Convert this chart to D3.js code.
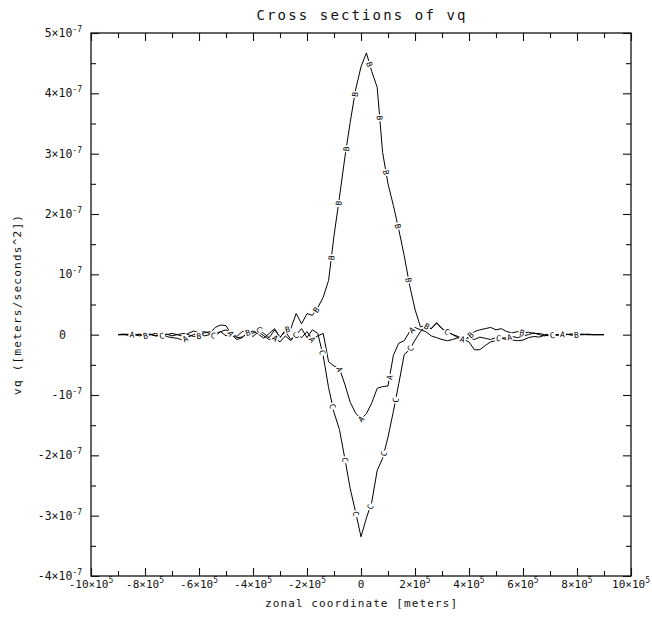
<!DOCTYPE html>
<html><head><meta charset="utf-8">
<script src="https://cdn.jsdelivr.net/npm/d3@7"></script>
<style>body{margin:0;background:#fff}svg{display:block}</style>
</head><body>
<svg id="c" width="652" height="623"></svg>
<script>
// x positions in units of 1e5 m
const xGrid = [
 -9,-8.8,-8.6,-8.4,-8.2,-8,-7.8,-7.6,-7.4,-7.2,
 -7,-6.8,-6.6,-6.4,-6.2,-6,-5.8,-5.6,-5.4,-5.2,
 -5,-4.8,-4.6,-4.4,-4.2,-4,-3.8,-3.6,-3.4,-3.2,
 -3,-2.8,-2.6,-2.4,-2.2,-2,-1.8,-1.6,-1.4,-1.2,
 -1,-0.8,-0.6,-0.4,-0.2,0,0.2,0.4,0.6,0.8,
 1,1.2,1.4,1.6,1.8,2,2.2,2.4,2.6,2.8,
 3,3.2,3.4,3.6,3.8,4,4.2,4.4,4.6,4.8,
 5,5.2,5.4,5.6,5.8,6,6.2,6.4,6.6,6.8,
 7,7.2,7.4,7.6,7.8,8,8.2,8.4,8.6,8.8,
 9];
// values in units of 1e-7 m/s^2
const seriesA = [
 0,0,0.01,0,-0.02,0,0.01,-0.02,0,-0.03,
 -0.05,-0.06,-0.09,-0.04,0,0.03,0.05,0.02,0.12,0.16,
 0.15,0,-0.08,-0.05,0.03,-0.03,0.05,-0.02,-0.08,-0.05,
 -0.12,-0.02,-0.1,0.02,-0.05,0.05,-0.08,-0.02,0.02,-0.45,
 -0.52,-0.56,-0.82,-1.12,-1.30,-1.40,-1.31,-1.13,-0.89,-0.86,
 -0.85,-0.34,-0.14,-0.1,0.05,0.12,0.08,0.05,-0.02,-0.05,
 -0.08,-0.1,-0.08,-0.05,-0.08,-0.12,-0.25,-0.25,-0.18,-0.12,
 -0.1,-0.06,-0.05,-0.03,-0.05,-0.02,0,0.03,0,-0.02,
 0,-0.02,0.01,0,0.01,0,0.01,0,0,0,
 0];
const seriesB = [
 0,0.01,0,-0.01,0.01,-0.02,0,0.02,-0.01,0.01,
 -0.02,0,0.02,0,-0.03,-0.02,0.03,0.05,0.02,0.05,
 -0.02,0.01,-0.05,-0.04,0.03,0.06,0.01,-0.06,0.02,0.1,
 -0.05,0.08,0.1,0.35,0.18,0.35,0.32,0.45,0.62,0.9,
 1.64,2.27,2.93,3.52,4.06,4.44,4.67,4.36,4.1,3.02,
 2.5,2.14,1.74,1.31,0.82,0.42,0.13,0.15,0.1,0.2,
 0.1,0.05,0,-0.05,-0.1,-0.03,0.05,0.08,0.1,0.12,
 0.08,0.1,0.05,0.03,0.05,0.03,0.04,0.02,0.02,0,
 0.01,0,0,0.01,-0.01,0,0,0.01,0,0,
 0];
const seriesC = [
 0,0,-0.01,0.01,0,-0.01,0,-0.02,-0.02,0,
 0.02,0,-0.03,0.02,0.06,0.03,-0.02,0,-0.02,0.05,
 0.08,0.02,-0.03,0.05,0.08,0.02,0.1,0.02,-0.05,0.08,
 -0.04,0.05,-0.08,0,0.1,-0.05,0.08,0.02,-0.35,-0.88,
 -1.29,-1.57,-2.05,-2.55,-2.94,-3.35,-3.04,-2.77,-2.25,-2.05,
 -1.7,-1.27,-0.81,-0.33,-0.25,-0.09,0.05,0.15,0.1,0.19,
 0.1,0.05,0,-0.03,-0.08,-0.05,-0.08,-0.04,-0.06,-0.08,
 -0.05,-0.06,-0.08,-0.09,-0.1,-0.09,-0.05,-0.03,-0.04,-0.01,
 -0.02,0,-0.01,0,0.01,0,0,0,0,0,
 0];
const seriesNames = ["A","B","C"];
const labelOffsets = [14, 28, 44];
const xMajorTicks = [-10,-8,-6,-4,-2,0,2,4,6,8,10];   // ×1e5
const xMinorTicks = [-9,-7,-5,-3,-1,1,3,5,7,9];
const yMajorTicks = [5,4,3,2,1,0,-1,-2,-3,-4];        // ×1e-7
const yMinorTicks = [4.5,3.5,2.5,1.5,0.5,-0.5,-1.5,-2.5,-3.5];
const titleText = "Cross sections of vq";
const xTitle = "zonal coordinate [meters]";
const yTitle = "vq ([meters/seconds^2])";

const FONT = "'DejaVu Sans Mono', 'Liberation Mono', monospace";
const svg = d3.select("#c");
const L = 91, R = 631, T = 33, B = 576;
const x = d3.scaleLinear().domain([-1e6, 1e6]).range([L, R]);
const y = d3.scaleLinear().domain([-4e-7, 5e-7]).range([B, T]);

// frame
svg.append("rect").attr("x", L).attr("y", T).attr("width", R - L).attr("height", B - T)
  .attr("fill", "none").attr("stroke", "#111").attr("stroke-width", 1.3);

// ticks via d3 axes (inward)
function tickAxis(axisFn, scale, vals, size, tx, ty) {
  const g = svg.append("g").attr("transform", `translate(${tx},${ty})`)
    .call(axisFn(scale).tickValues(vals).tickSizeInner(size).tickSizeOuter(0).tickFormat(""));
  g.select(".domain").remove();
  g.selectAll("line").attr("stroke", "#111").attr("stroke-width", 1.1);
}
const xMaj = xMajorTicks.map(v => v * 1e5), xMin = xMinorTicks.map(v => v * 1e5);
const yMaj = yMajorTicks.map(v => v * 1e-7), yMin = yMinorTicks.map(v => v * 1e-7);
tickAxis(d3.axisBottom, x, xMaj, -8, 0, B);
tickAxis(d3.axisBottom, x, xMin, -5, 0, B);
tickAxis(d3.axisTop, x, xMaj, -8, 0, T);
tickAxis(d3.axisTop, x, xMin, -5, 0, T);
tickAxis(d3.axisLeft, y, yMaj, -8, L, 0);
tickAxis(d3.axisLeft, y, yMin, -5, L, 0);
tickAxis(d3.axisRight, y, yMaj, -8, R, 0);
tickAxis(d3.axisRight, y, yMin, -5, R, 0);

// x tick labels
xMajorTicks.forEach(v => {
  const t = svg.append("text").attr("x", x(v * 1e5)).attr("y", 588)
    .attr("text-anchor", "middle").attr("font-family", FONT).attr("font-size", 11).attr("fill", "#111");
  if (v === 0) { t.text("0"); return; }
  t.append("tspan").text(`${v}×10`);
  t.append("tspan").attr("dy", -5).attr("font-size", 8).text("5");
});
// y tick labels
yMajorTicks.forEach(v => {
  const t = svg.append("text").attr("x", 82).attr("y", y(v * 1e-7) + 4)
    .attr("text-anchor", "end").attr("font-family", FONT).attr("font-size", 11.5).attr("fill", "#111");
  if (v === 0) { t.text("0").attr("x", 66); return; }
  const base = v === 1 ? "10" : v === -1 ? "-10" : `${v}×10`;
  t.append("tspan").text(base);
  t.append("tspan").attr("dy", -5).attr("font-size", 8).text("-7");
});

// titles
svg.append("text").attr("x", 361).attr("y", 20).attr("text-anchor", "middle")
  .attr("font-family", FONT).attr("font-size", 14).attr("fill", "#111")
  .attr("textLength", 209).attr("lengthAdjust", "spacing").text(titleText);
svg.append("text").attr("x", 361).attr("y", 607).attr("text-anchor", "middle")
  .attr("font-family", FONT).attr("font-size", 11).attr("fill", "#111")
  .attr("textLength", 192).attr("lengthAdjust", "spacing").text(xTitle);
svg.append("text").attr("transform", "translate(21,305) rotate(-90)").attr("text-anchor", "middle")
  .attr("font-family", FONT).attr("font-size", 11).attr("fill", "#111")
  .attr("textLength", 180).attr("lengthAdjust", "spacing").text(yTitle);

// curves
const allSeries = [seriesA, seriesB, seriesC];
const line = d3.line().x(d => x(d[0] * 1e5)).y(d => y(d[1] * 1e-7));
const labelLayer = [];
allSeries.forEach((vals, si) => {
  const data = xGrid.map((xv, i) => [xv, vals[i]]);
  svg.append("path").datum(data).attr("d", line).attr("fill", "none")
    .attr("stroke", "#000").attr("stroke-width", 1);
  // labels every fixed arc length
  const pts = data.map(d => [x(d[0] * 1e5), y(d[1] * 1e-7)]);
  const spacing = 55;
  let target = labelOffsets[si], acc = 0;
  for (let i = 1; i < pts.length; i++) {
    const dx = pts[i][0] - pts[i - 1][0], dy = pts[i][1] - pts[i - 1][1];
    const len = Math.hypot(dx, dy);
    while (acc + len >= target) {
      const f = (target - acc) / len;
      labelLayer.push({ name: seriesNames[si], px: pts[i - 1][0] + f * dx, py: pts[i - 1][1] + f * dy,
        ang: Math.atan2(dy, dx) * 180 / Math.PI });
      target += spacing;
    }
    acc += len;
  }
});
const lg = svg.append("g");
labelLayer.filter(d => d.px < R - 20).forEach(d => {
  const g = lg.append("g").attr("transform", `translate(${d.px},${d.py}) rotate(${d.ang})`);
  g.append("rect").attr("x", -3.5).attr("y", -4).attr("width", 7).attr("height", 8).attr("fill", "#fff");
  g.append("text").attr("text-anchor", "middle").attr("dy", 3)
    .attr("font-family", FONT).attr("font-size", 8).attr("fill", "#000").text(d.name);
});
</script>
</body></html>
